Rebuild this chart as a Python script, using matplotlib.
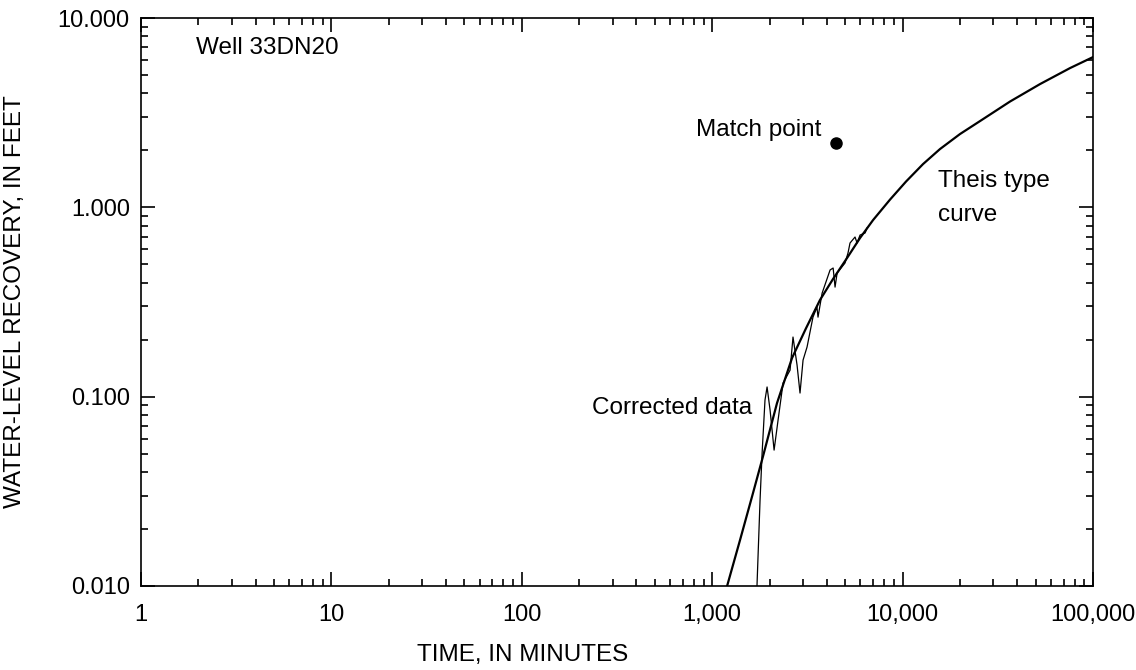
import numpy as np
import matplotlib.pyplot as plt
from matplotlib.ticker import FixedLocator, LogLocator, NullFormatter

plt.rcParams['font.family'] = ['Liberation Sans', 'DejaVu Sans']

# Theis type curve
theisTime = [1180, 1400, 1638, 1849, 2189, 2625, 3110, 3680, 4307, 5105, 5975, 6995,
             8590, 10420, 12800, 15710, 20010, 25510, 36640, 52700, 75700, 100000]
theisRecovery = [0.0095, 0.0175, 0.0310, 0.0485, 0.0925, 0.160, 0.230, 0.324, 0.418,
                 0.540, 0.689, 0.857, 1.0996, 1.369, 1.693, 2.032, 2.439, 2.857, 3.622,
                 4.48, 5.44, 6.22]

# corrected water-level data
dataTime = [1718, 1783, 1828, 1893, 1941, 2013, 2113, 2217, 2355, 2563, 2656, 2789,
            2891, 2999, 3148, 3381, 3548, 3594, 3776, 4159, 4315, 4416, 4528, 4981,
            5165, 5292, 5623, 5764, 5975, 6350, 6503]
dataRecovery = [0.010, 0.0284, 0.0504, 0.0960, 0.1125, 0.0849, 0.0522, 0.0752, 0.118,
                0.138, 0.2065, 0.147, 0.1045, 0.156, 0.183, 0.263, 0.297, 0.263, 0.352,
                0.467, 0.478, 0.379, 0.450, 0.508, 0.574, 0.648, 0.697, 0.648, 0.714,
                0.732, 0.778]

matchTime = 4470
matchRecovery = 2.19

xTicks = [1, 10, 100, 1000, 10000, 100000]
xTickLabels = ["1", "10", "100", "1,000", "10,000", "100,000"]
yTicks = [0.01, 0.1, 1, 10]
yTickLabels = ["0.010", "0.100", "1.000", "10.000"]

fig = plt.figure(figsize=(11.36, 6.70), dpi=100)
ax = fig.add_axes([0.1241, 0.1254, 0.8381, 0.8477])

ax.plot(theisTime, theisRecovery, color="black", linewidth=1.6, solid_joinstyle="round")
ax.plot(dataTime, dataRecovery, color="black", linewidth=0.9)
ax.plot([matchTime], [matchRecovery], "o", color="black", markersize=8)

ax.set_xscale("log")
ax.set_yscale("log")
ax.set_xlim(1, 100000)
ax.set_ylim(0.01, 10)

ax.xaxis.set_major_locator(FixedLocator(xTicks))
ax.set_xticklabels(xTickLabels)
ax.yaxis.set_major_locator(FixedLocator(yTicks))
ax.set_yticklabels(yTickLabels)
ax.xaxis.set_minor_locator(LogLocator(base=10, subs=np.arange(2, 10)))
ax.yaxis.set_minor_locator(LogLocator(base=10, subs=np.arange(2, 10)))
ax.xaxis.set_minor_formatter(NullFormatter())
ax.yaxis.set_minor_formatter(NullFormatter())

ax.tick_params(which="both", direction="in", top=True, right=True, width=1.2, labelsize=17)
ax.tick_params(axis="x", which="major", pad=13)
ax.tick_params(axis="y", which="major", pad=8)
ax.tick_params(which="major", length=10)
ax.tick_params(which="minor", length=5)
for spine in ax.spines.values():
    spine.set_linewidth(1.2)

ax.set_xlabel("TIME, IN MINUTES", fontsize=17.5)
ax.xaxis.set_label_coords(0.401, -0.121)
ax.xaxis.label.set_va("center")
ax.set_ylabel("WATER-LEVEL RECOVERY, IN FEET", fontsize=17.5)
ax.yaxis.set_label_coords(-0.132, 0.5)
ax.yaxis.label.set_va("center")

ax.text(1.945, 6.95, "Well 33DN20", fontsize=17.5, ha="left", va="center")
ax.text(3726, 2.56, "Match point", fontsize=17.5, ha="right", va="center")
ax.text(15350, 1.12, "Theis type\ncurve", fontsize=17.5, ha="left", va="center", linespacing=1.65)
ax.text(1618, 0.087, "Corrected data", fontsize=17.5, ha="right", va="center")

fig.savefig("out.png", dpi=100)
